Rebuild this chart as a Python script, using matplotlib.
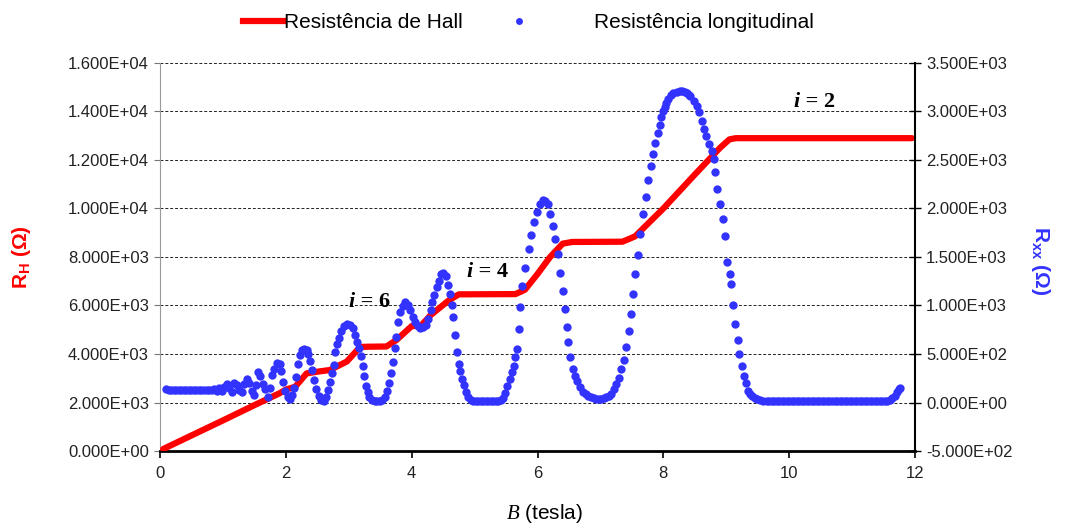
import matplotlib
matplotlib.use("Agg")
import matplotlib.pyplot as plt
from matplotlib.lines import Line2D
from matplotlib.ticker import FuncFormatter, MultipleLocator

plt.rcParams["font.family"] = ["Liberation Sans", "DejaVu Sans"]
plt.rcParams["mathtext.fontset"] = "custom"
plt.rcParams["mathtext.rm"] = "Liberation Sans"
plt.rcParams["mathtext.bf"] = "Liberation Sans:bold"
plt.rcParams["mathtext.it"] = "Liberation Serif:italic"

# Hall resistance (left axis, ohm) vs B (tesla)
hall_b = [0.05, 0.5, 1.0, 1.5, 1.9, 2.0, 2.15, 2.33, 2.5, 2.7, 2.97, 3.18, 3.3, 3.6,
          3.76, 4.0, 4.15, 4.3, 4.6, 4.75, 5.65, 5.8, 6.0, 6.2, 6.4, 6.55, 7.35, 7.55,
          8.0, 8.5, 8.9, 9.05, 9.15, 11.95]
hall_r = [80, 640, 1260, 1890, 2380, 2530, 2650, 3200, 3270, 3340, 3690, 4290, 4300, 4310,
          4580, 5150, 5170, 5600, 6230, 6460, 6470, 6650, 7300, 8000, 8550, 8620, 8630, 8850,
          10000, 11400, 12500, 12850, 12900, 12900]

# longitudinal resistance (right axis, ohm) vs B (tesla)
rxx_b = [0.10, 0.14, 0.18, 0.22, 0.26, 0.30, 0.34, 0.38, 0.42, 0.46,
         0.50, 0.54, 0.58, 0.62, 0.66, 0.70, 0.74, 0.78, 0.82, 0.86,
         0.90, 0.94, 0.98, 1.02, 1.06, 1.10, 1.14, 1.18, 1.22, 1.26,
         1.30, 1.34, 1.38, 1.42, 1.46, 1.50, 1.53, 1.56, 1.59, 1.63,
         1.67, 1.71, 1.75, 1.78, 1.82, 1.86, 1.90, 1.93, 1.96, 1.99,
         2.03, 2.07, 2.10, 2.13, 2.16, 2.19, 2.22, 2.25, 2.29, 2.33,
         2.36, 2.39, 2.42, 2.45, 2.48, 2.52, 2.56, 2.60, 2.64, 2.67,
         2.70, 2.73, 2.76, 2.78, 2.81, 2.84, 2.88, 2.92, 2.97, 3.02,
         3.06, 3.10, 3.13, 3.16, 3.19, 3.22, 3.24, 3.27, 3.30, 3.33,
         3.37, 3.41, 3.45, 3.49, 3.53, 3.57, 3.61, 3.64, 3.67, 3.70,
         3.73, 3.75, 3.78, 3.82, 3.86, 3.90, 3.94, 3.98, 4.02, 4.06,
         4.10, 4.14, 4.18, 4.22, 4.26, 4.30, 4.33, 4.36, 4.40, 4.43,
         4.47, 4.50, 4.54, 4.58, 4.61, 4.64, 4.66, 4.69, 4.72, 4.75,
         4.77, 4.80, 4.83, 4.86, 4.90, 4.94, 4.98, 5.02, 5.06, 5.10,
         5.14, 5.18, 5.22, 5.26, 5.30, 5.34, 5.38, 5.42, 5.45, 5.48,
         5.52, 5.56, 5.59, 5.62, 5.65, 5.67, 5.70, 5.72, 5.75, 5.80,
         5.86, 5.90, 5.94, 5.99, 6.04, 6.09, 6.12, 6.16, 6.20, 6.25,
         6.28, 6.33, 6.36, 6.41, 6.44, 6.47, 6.49, 6.52, 6.57, 6.60,
         6.62, 6.68, 6.73, 6.77, 6.81, 6.85, 6.89, 6.93, 6.97, 7.01,
         7.05, 7.09, 7.13, 7.17, 7.21, 7.25, 7.29, 7.32, 7.37, 7.41,
         7.45, 7.48, 7.52, 7.55, 7.60, 7.63, 7.67, 7.72, 7.76, 7.80,
         7.83, 7.87, 7.91, 7.94, 7.97, 8.00, 8.02, 8.05, 8.08, 8.12,
         8.16, 8.21, 8.26, 8.30, 8.34, 8.37, 8.40, 8.43, 8.48, 8.53,
         8.57, 8.61, 8.65, 8.68, 8.72, 8.77, 8.80, 8.82, 8.86, 8.90,
         8.95, 8.98, 9.01, 9.06, 9.08, 9.11, 9.14, 9.18, 9.21, 9.25,
         9.28, 9.32, 9.35, 9.38, 9.41, 9.45, 9.49, 9.54, 9.59, 9.64,
         9.68, 9.72, 9.76, 9.80, 9.84, 9.88, 9.92, 9.96, 10.00, 10.04,
         10.08, 10.12, 10.16, 10.20, 10.24, 10.28, 10.32, 10.36, 10.40, 10.44,
         10.48, 10.52, 10.56, 10.60, 10.64, 10.68, 10.72, 10.76, 10.80, 10.84,
         10.88, 10.92, 10.96, 11.00, 11.04, 11.08, 11.12, 11.16, 11.20, 11.24,
         11.28, 11.32, 11.36, 11.40, 11.44, 11.48, 11.52, 11.56, 11.60, 11.64,
         11.68, 11.71, 11.74, 11.76]
rxx_r = [135, 133, 132, 132, 131, 131, 130, 130, 130, 129,
         129, 129, 128, 128, 128, 130, 127, 133, 125, 136,
         120, 145, 115, 160, 190, 150, 110, 205, 185, 125,
         105, 190, 240, 200, 120, 75, 180, 310, 270, 190,
         135, 60, 150, 280, 350, 410, 395, 320, 210, 120,
         60, 35, 80, 150, 260, 400, 490, 540, 555, 540,
         500, 430, 340, 230, 140, 70, 25, 20, 60, 130,
         210, 300, 390, 520, 600, 660, 740, 790, 810, 800,
         770, 700, 620, 560, 480, 380, 270, 170, 110, 60,
         30, 18, 15, 18, 30, 60, 120, 200, 300, 420,
         560, 680, 830, 930, 990, 1035, 1010, 950, 880, 830,
         790, 770, 775, 800, 860, 950, 1040, 1110, 1190, 1250,
         1320, 1340, 1300, 1210, 1120, 1000, 880, 700, 520, 400,
         320, 240, 180, 110, 60, 30, 20, 16, 15, 14,
         14, 14, 14, 14, 15, 16, 18, 25, 45, 100,
         170, 240, 310, 380, 470, 550, 760, 980, 1200, 1390,
         1580, 1730, 1860, 1960, 2045, 2090, 2080, 2045, 1945, 1820,
         1690, 1530, 1340, 1150, 965, 775, 620, 470, 345, 275,
         225, 155, 105, 85, 70, 55, 45, 40, 36, 36,
         42, 52, 70, 90, 140, 190, 250, 345, 440, 570,
         740, 910, 1120, 1325, 1525, 1740, 1940, 2120, 2290, 2435,
         2560, 2680, 2780, 2865, 2940, 3000, 3045, 3090, 3130, 3165,
         3190, 3205, 3212, 3212, 3205, 3190, 3175, 3155, 3110, 3060,
         2990, 2905, 2820, 2750, 2665, 2595, 2510, 2375, 2200, 2045,
         1890, 1720, 1445, 1320, 1220, 1000, 810, 640, 500, 380,
         275, 200, 120, 90, 70, 50, 36, 25, 19, 16,
         15, 14, 13, 13, 12, 12, 12, 12, 12, 12,
         12, 12, 12, 12, 12, 12, 12, 12, 12, 12,
         12, 12, 12, 12, 12, 12, 12, 12, 12, 12,
         12, 12, 12, 12, 12, 12, 12, 12, 12, 12,
         12, 12, 13, 13, 14, 15, 17, 20, 26, 42,
         70, 110, 140, 145]

# filling-factor labels: (text after "i", B, R_H)
plateau_labels = [(" = 6", 3.10, 5950), (" = 4", 4.97, 7160), (" = 2", 10.17, 14200)]

RED = "#ff0000"
BLUE = "#3333ff"

fig = plt.figure(figsize=(10.65, 5.24), dpi=100)
ax = fig.add_axes([0.1502, 0.1393, 0.7090, 0.7405])
ax2 = ax.twinx()

sci = FuncFormatter(lambda v, p: f"{v:.3E}")

ax.plot(hall_b, hall_r, color=RED, lw=4.5, solid_capstyle="round",
        solid_joinstyle="round", zorder=3)
ax2.plot(rxx_b, rxx_r, ls="none", marker="o", ms=6, color=BLUE,
         markeredgewidth=0, zorder=4)

ax.set_xlim(0, 12)
ax.set_ylim(0, 16000)
ax2.set_ylim(-500, 3500)
ax.xaxis.set_major_locator(MultipleLocator(2))
ax.yaxis.set_major_locator(MultipleLocator(2000))
ax2.yaxis.set_major_locator(MultipleLocator(500))
ax.yaxis.set_major_formatter(sci)
ax2.yaxis.set_major_formatter(sci)

ax.set_axisbelow(True)
ax.yaxis.grid(True, linestyle=(0, (3, 2)), color="#222222", lw=0.7)

for s in ["top", "right"]:
    ax.spines[s].set_visible(False)
for s in ["top", "left", "bottom"]:
    ax2.spines[s].set_visible(False)
ax.spines["left"].set_color("#999999")
ax.spines["left"].set_linewidth(0.8)
ax.spines["bottom"].set_linewidth(2)
ax2.spines["right"].set_linewidth(1.5)

ax.tick_params(axis="y", direction="out", length=4, width=0.8, color="#777777",
               labelsize=12, labelcolor="#222222", pad=4)
ax.tick_params(axis="x", direction="out", length=5, width=1.2,
               labelsize=12, labelcolor="#222222", pad=6)
ax2.tick_params(axis="y", direction="inout", length=8, width=1,
                labelsize=12, labelcolor="#222222", pad=4)

ax.set_xlabel("$B$ (tesla)", fontsize=15, va="center")
ax.xaxis.set_label_coords(0.51, -0.16)
ax.set_ylabel(r"R$_{\mathbf{H}}$ (Ω)", fontsize=15, fontweight="bold",
              color=RED, va="center")
ax.yaxis.set_label_coords(-0.183, 0.5)
ax2.set_ylabel(r"R$_{\mathbf{xx}}$ (Ω)", fontsize=15, fontweight="bold",
               color=BLUE, rotation=270, va="center")
ax2.yaxis.set_label_coords(1.166, 0.49)

for txt, xb, yr in plateau_labels:
    ax.text(xb, yr, "i", fontsize=16, fontweight="bold", fontstyle="italic",
            family="Liberation Serif", ha="right", va="baseline", zorder=5)
    ax.text(xb, yr, txt, fontsize=16, fontweight="bold",
            family="Liberation Serif", ha="left", va="baseline", zorder=5)

h_hall = Line2D([], [], color=RED, lw=4.5)
h_rxx = Line2D([], [], color=BLUE, marker="o", ls="none", ms=5, markeredgewidth=0)
fig.legend([h_hall], ["Resistência de Hall"], loc="center left",
           bbox_to_anchor=(243 / 1065, 1 - 23 / 524), frameon=False, fontsize=15,
           handlelength=1.9, handletextpad=0.05, borderpad=0, borderaxespad=0)
fig.legend([h_rxx], ["Resistência longitudinal"], loc="center left",
           bbox_to_anchor=(509 / 1065, 1 - 23 / 524), frameon=False, fontsize=15,
           handlelength=1.0, handletextpad=3.1, borderpad=0, borderaxespad=0)

fig.savefig("out.png", dpi=100)
